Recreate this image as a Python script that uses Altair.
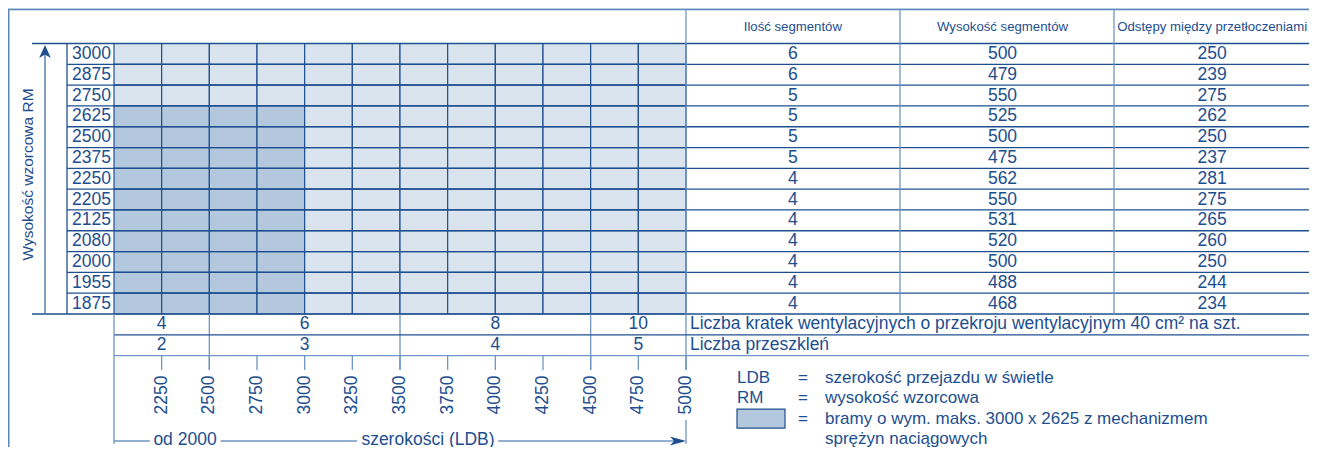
import altair as alt
import pandas as pd

# ---------------- data ----------------
heights = [3000, 2875, 2750, 2625, 2500, 2375, 2250, 2205, 2125, 2080, 2000, 1955, 1875]
segments = [6, 6, 5, 5, 5, 5, 4, 4, 4, 4, 4, 4, 4]
segment_heights = [500, 479, 550, 525, 500, 475, 562, 550, 531, 520, 500, 488, 468]
spacings = [250, 239, 275, 262, 250, 237, 281, 275, 265, 260, 250, 244, 234]
widths = [2000, 2250, 2500, 2750, 3000, 3250, 3500, 3750, 4000, 4250, 4500, 4750, 5000]
span_starts = [2000, 2500, 3500, 4500]
span_ends = [2500, 3500, 4500, 5000]
vent_counts = [4, 6, 8, 10]
pane_counts = [2, 3, 4, 5]
spring_max_width = 3000
spring_max_height = 2625
column_titles = ["Ilość segmentów", "Wysokość segmentów", "Odstępy między przetłoczeniami"]
vent_label = "Liczba kratek wentylacyjnych o przekroju wentylacyjnym 40 cm² na szt."
pane_label = "Liczba przeszkleń"
y_title = "Wysokość wzorcowa RM"
x_from = "od " + str(widths[0])
x_title = "szerokości (LDB)"
legend_keys = ["LDB", "RM", "", ""]
legend_eq = ["=", "=", "=", ""]
legend_desc = ["szerokość przejazdu w świetle", "wysokość wzorcowa",
               "bramy o wym. maks. 3000 x 2625 z mechanizmem", "sprężyn naciągowych"]

# ---------------- style ----------------
FONT = "Liberation Sans"
INK = "#1d4e8f"
LINE = "#1f4f8f"
LIGHT = "#6f96c4"
BORDER = "#5b86ba"
CELL = "#dae4ef"
CELL_DARK = "#b3c8dd"
BG = "#dae3ee"
FS = 17.5
W, H = 1301, 439

n = len(heights)
step = widths[1] - widths[0]


def X(f, **kw):
    return alt.X(f, type="quantitative", axis=None,
                 scale=alt.Scale(domain=[widths[0], widths[-1]], range=[106, 678], zero=False, nice=False), **kw)


def Y(f):
    return alt.Y(f, type="quantitative", axis=None,
                 scale=alt.Scale(domain=[0, n], range=[35.5, 306], zero=False, nice=False))


def XC(bp, rng):
    return alt.X("col:N", axis=None, bandPosition=bp,
                 scale=alt.Scale(domain=column_titles, range=rng, paddingInner=0, paddingOuter=0))


one = pd.DataFrame({"a": [0]})

panel = alt.Chart(one).mark_rect(fill="white", stroke=BORDER, strokeWidth=1.5).encode(
    x=alt.value(0.75), x2=alt.value(W + 30), y=alt.value(1.5), y2=alt.value(H + 30))

cells_df = pd.DataFrame([
    {"r": i, "r2": i + 1, "w0": w, "w1": w + step,
     "kind": "spring" if (w + step <= spring_max_width and h <= spring_max_height) else "std"}
    for i, h in enumerate(heights) for w in widths[:-1]
])
cells = alt.Chart(cells_df).mark_rect(stroke=LINE, strokeWidth=1.2).encode(
    x=X("w0"), x2="w1", y=Y("r"), y2="r2",
    fill=alt.Fill("kind:N", scale=alt.Scale(domain=["std", "spring"], range=[CELL, CELL_DARK]), legend=None))

rows_df = pd.DataFrame({"r": list(range(n)), "ym": [i + 0.5 for i in range(n)], "height": heights,
                        column_titles[0]: segments, column_titles[1]: segment_heights,
                        column_titles[2]: spacings})
table_df = rows_df.melt(id_vars=["r", "ym", "height"], value_vars=column_titles, var_name="col", value_name="v")

labelcol = alt.Chart(pd.DataFrame({"t": [0], "b": [n]})).mark_rule(color=LINE, strokeWidth=1.3).encode(
    x=alt.value(59), y=Y("t"), y2="b")

inner = alt.Chart(pd.DataFrame({"b": list(range(1, n))})).mark_rule(color=LINE, strokeWidth=1.3).encode(
    x=alt.value(59), x2=alt.value(W), y=Y("b"))
outer = alt.Chart(pd.DataFrame({"b": [0, n]})).mark_rule(color=LINE, strokeWidth=1.4).encode(
    x=alt.value(24), x2=alt.value(W), y=Y("b"))

row_labels = alt.Chart(rows_df).mark_text(font=FONT, fontSize=FS, color=INK, align="right", baseline="middle").encode(
    x=alt.value(103), y=Y("ym"), text="height:N")

dividers = alt.Chart(pd.DataFrame({"col": column_titles})).mark_rule(color=LIGHT, strokeWidth=1.3).encode(
    x=XC(0, [678, 1320]), y=alt.value(1), y2=alt.value(306))

TEXT_RANGE = [680, 1309]
table_text = alt.Chart(table_df).mark_text(font=FONT, fontSize=FS, color=INK, baseline="middle").encode(
    x=XC(0.5, TEXT_RANGE), y=Y("ym"), text="v:N")

header = alt.Chart(pd.DataFrame({"col": column_titles})).mark_text(
    font=FONT, fontSize=13.2, color=INK, baseline="middle").encode(
    x=XC(0.5, TEXT_RANGE), y=alt.value(19), text="col:N")

spans_df = pd.DataFrame({"s": span_starts, "e": span_ends,
                         "mid": [(a + b) / 2 for a, b in zip(span_starts, span_ends)],
                         "vent": vent_counts, "pane": pane_counts,
                         "yv": n + 0.5, "yp": n + 1.5, "ytop": n})
vent_text = alt.Chart(spans_df).mark_text(font=FONT, fontSize=FS, color=INK, baseline="middle").encode(
    x=X("mid"), y=Y("yv"), text="vent:N")
pane_text = alt.Chart(spans_df).mark_text(font=FONT, fontSize=FS, color=INK, baseline="middle").encode(
    x=X("mid"), y=Y("yp"), text="pane:N")
span_div = alt.Chart(spans_df).mark_rule(color=LIGHT, strokeWidth=1.3).encode(
    x=X("e"), y=Y("ytop"), y2=alt.value(362))

row_lines = alt.Chart(pd.DataFrame({"b": [n + 1], "x0": [widths[0]]})).mark_rule(color=LINE, strokeWidth=1.3).encode(
    x=X("x0"), x2=alt.value(W), y=Y("b"))
row_lines2 = alt.Chart(pd.DataFrame({"b": [n + 2], "x0": [widths[0]]})).mark_rule(color=LIGHT, strokeWidth=1.3).encode(
    x=X("x0"), x2=alt.value(W), y=Y("b"))

side_labels = alt.Chart(pd.DataFrame({"t": [vent_label, pane_label], "y": [n + 0.5, n + 1.5]})).mark_text(
    font=FONT, fontSize=FS, color=INK, align="left", baseline="middle").encode(
    x=alt.value(682), y=Y("y"), text="t:N")

ticks_df = pd.DataFrame({"w": widths[1:], "yt": n + 2})
ticks = alt.Chart(ticks_df).mark_rule(color=LIGHT, strokeWidth=1.3).encode(
    x=X("w"), y=Y("yt"), y2=alt.value(362))
tick_labels = alt.Chart(ticks_df).mark_text(font=FONT, fontSize=FS, color=INK, angle=270,
                                            align="center", baseline="middle").encode(
    x=X("w"), y=alt.value(387), text="w:N")

left_line = alt.Chart(pd.DataFrame({"w": [widths[0]], "yt": [n]})).mark_rule(color=LIGHT, strokeWidth=1.3).encode(
    x=X("w"), y=Y("yt"), y2=alt.value(436))
right_low = alt.Chart(pd.DataFrame({"w": [widths[-1]]})).mark_rule(color=LIGHT, strokeWidth=1.3).encode(
    x=X("w"), y=alt.value(412), y2=alt.value(436))

arrow_df = pd.DataFrame({"a": [widths[0]], "b": [widths[-1] - 40]})
arrow_line = alt.Chart(arrow_df).mark_rule(color=LIGHT, strokeWidth=1.3).encode(
    x=X("a"), x2="b", y=alt.value(433))
arrow_head = alt.Chart(one).mark_point(shape="M0,-1L0.55,1L0,0.5L-0.55,1Z", filled=True, size=256,
                                       angle=90, color=LINE, opacity=1, strokeWidth=0).encode(
    x=alt.value(670), y=alt.value(433))


def halo_text(txt, xpos):
    d = pd.DataFrame({"t": [txt]})
    h = alt.Chart(d).mark_text(font=FONT, fontSize=FS, color="white", stroke="white", strokeWidth=9,
                               baseline="middle").encode(x=alt.value(xpos), y=alt.value(431.5), text="t:N")
    t = alt.Chart(d).mark_text(font=FONT, fontSize=FS, color=INK, baseline="middle").encode(
        x=alt.value(xpos), y=alt.value(431.5), text="t:N")
    return [h, t]


v_arrow = alt.Chart(one).mark_rule(color="#3d6ea8", strokeWidth=1.3).encode(
    x=alt.value(37), y=alt.value(46), y2=alt.value(305))
v_head = alt.Chart(one).mark_point(shape="M0,-1L0.9,1L0,0.45L-0.9,1Z", filled=True, size=169,
                                   color=LINE, opacity=1, strokeWidth=0).encode(
    x=alt.value(37), y=alt.value(43.5))

ytitle = alt.Chart(pd.DataFrame({"t": [y_title]})).mark_text(
    font=FONT, fontSize=15.5, color=INK, angle=270, align="center", baseline="middle").encode(
    x=alt.value(19.5), y=alt.value(166.5), text="t:N")

LH = 20.3
LEG_Y = 370
leg_rect = alt.Chart(pd.DataFrame({"kind": ["spring"]})).mark_rect(stroke=LINE, strokeWidth=1.2).encode(
    x=alt.value(729), x2=alt.value(777), y=alt.value(LEG_Y + 2 * LH - 9.5), y2=alt.value(LEG_Y + 2 * LH + 9.5),
    fill=alt.Fill("kind:N", scale=alt.Scale(domain=["std", "spring"], range=[CELL, CELL_DARK]), legend=None))


def leg_text(lines, xpos):
    return alt.Chart(one).mark_text(font=FONT, fontSize=17, color=INK, align="left", baseline="middle",
                                    lineHeight=LH).encode(
        x=alt.value(xpos), y=alt.value(LEG_Y), text=alt.value(lines))


layers = [panel, cells, labelcol, inner, outer, dividers, row_labels, table_text, header,
          span_div, row_lines, row_lines2, vent_text, pane_text, side_labels, ticks, tick_labels,
          left_line, right_low, arrow_line, arrow_head] + halo_text(x_from, 177) + halo_text(x_title, 420) + [
          v_arrow, v_head, ytitle, leg_rect,
          leg_text(legend_keys, 729), leg_text(legend_eq, 790), leg_text(legend_desc, 817)]

chart = alt.layer(*layers).resolve_scale(x="independent", y="independent").properties(
    width=W, height=H, background=BG, padding=0,
    autosize=alt.AutoSizeParams(type="none")).configure_view(strokeWidth=0)

chart.save("out.html", embed_options={"renderer": "svg", "actions": False})
